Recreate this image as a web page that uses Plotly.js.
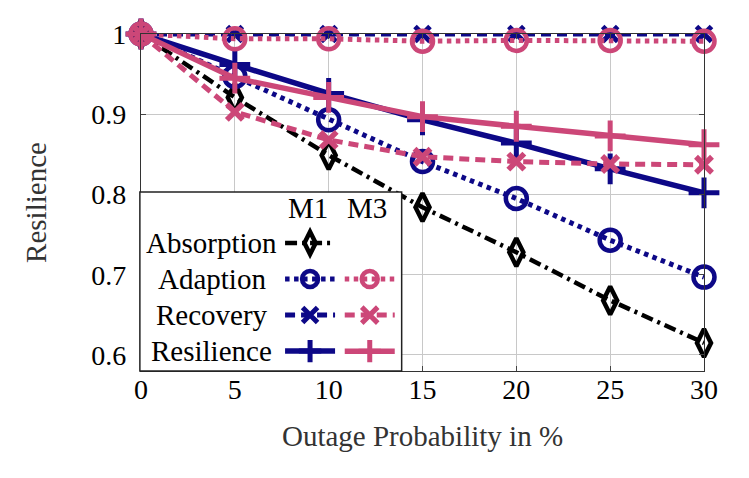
<!DOCTYPE html>
<html>
<head>
<meta charset="utf-8">
<script src="https://cdn.plot.ly/plotly-3.0.1.min.js"></script>
<style>
  html, body { margin: 0; padding: 0; background: #fff; }
  #graph { width: 749px; height: 478px; }
</style>
</head>
<body>
<div id="graph"></div>
<script>
// outage probability in %
const outage = [0, 5, 10, 15, 20, 25, 30];

// model M1
const absorptionM1 = [1, 0.921, 0.849, 0.784, 0.728, 0.668, 0.615];
const adaptionM1   = [1, 0.947, 0.893, 0.841, 0.795, 0.743, 0.697];
const recoveryM1   = [1, 1, 1, 1, 1, 1, 1];
const resilienceM1 = [1, 0.962, 0.926, 0.893, 0.864, 0.832, 0.802];

// model M3
const adaptionM3   = [1, 0.994, 0.994, 0.991, 0.992, 0.992, 0.991];
const recoveryM3   = [1, 0.903, 0.868, 0.847, 0.841, 0.838, 0.837];
const resilienceM3 = [1, 0.945, 0.921, 0.897, 0.885, 0.873, 0.862];

const rowLabels = ['Absorption', 'Adaption', 'Recovery', 'Resilience'];
const colLabels = ['M1', 'M3'];
const yTicks = [0.6, 0.7, 0.8, 0.9, 1];

const NAVY = '#0d0887';
const PINK = '#cc4778';
const FONT = 'Liberation Serif, Times New Roman, serif';

function series(y, color, dash, width, symbol, size, mlw, legend) {
    return {
        x: outage,
        y: y,
        type: 'scatter',
        mode: 'lines+markers',
        name: ' ',
        legend: legend,
        cliponaxis: false,
        hoverinfo: 'skip',
        line: { color: color, width: width, dash: dash },
        marker: {
            symbol: symbol,
            size: size,
            color: color,
            line: { color: color, width: mlw }
        }
    };
}

const data = [
    series(absorptionM1, '#000000', '12px,5px,3px,5px', 4.5, 'diamond-tall-open', 20, 4.5, 'legend'),
    series(adaptionM1, NAVY, '4.5px,4.5px', 5, 'circle-open', 21, 4.5, 'legend'),
    series(recoveryM1, NAVY, '10px,6px', 5, 'x-thin-open', 15, 5, 'legend'),
    series(resilienceM1, NAVY, 'solid', 5.5, 'cross-thin-open', 22, 5, 'legend'),
    series(adaptionM3, PINK, '4.5px,4.5px', 5, 'circle-open', 21, 4.5, 'legend2'),
    series(recoveryM3, PINK, '10px,6px', 5, 'x-thin-open', 16, 5.5, 'legend2'),
    series(resilienceM3, PINK, 'solid', 5.5, 'cross-thin-open', 22, 5, 'legend2')
];

// legend table: row labels + column headers
const rowY = [0.380, 0.273, 0.166, 0.059];
const annotations = rowLabels.map((t, i) => ({
    xref: 'paper', yref: 'paper', x: 0.126, y: rowY[i],
    text: t, showarrow: false, xanchor: 'center', yanchor: 'middle',
    font: { family: FONT, size: 29, color: '#000' }
})).concat(colLabels.map((t, i) => ({
    xref: 'paper', yref: 'paper', x: [0.297, 0.401][i], y: 0.484,
    text: t, showarrow: false, xanchor: 'center', yanchor: 'middle',
    font: { family: FONT, size: 29, color: '#000' }
})));

const legendBase = {
    orientation: 'v',
    xanchor: 'left',
    yanchor: 'top',
    bgcolor: 'rgba(0,0,0,0)',
    borderwidth: 0,
    itemwidth: 50,
    itemclick: false,
    itemdoubleclick: false,
    font: { family: FONT, size: 25.4 }
};

const layout = {
    width: 749,
    height: 478,
    margin: { l: 141, r: 45, t: 34, b: 107, pad: 0 },
    paper_bgcolor: '#fff',
    plot_bgcolor: '#fff',
    font: { family: FONT, size: 28, color: '#000' },
    xaxis: {
        range: [0, 30],
        tick0: 0,
        dtick: 5,
        ticks: 'inside',
        ticklen: 5,
        tickcolor: '#444',
        showline: true,
        linecolor: '#333',
        linewidth: 1.2,
        mirror: 'ticks',
        showgrid: true,
        gridcolor: '#c8c8c8',
        gridwidth: 1,
        zeroline: false,
        ticklabelstandoff: -7,
        tickfont: { family: FONT, size: 28, color: '#000' },
        title: { text: 'Outage Probability in %', standoff: 22, font: { family: FONT, size: 29, color: '#333' } }
    },
    yaxis: {
        range: [0.58, 1.0],
        tickvals: yTicks,
        ticktext: yTicks.map(v => String(v)),
        ticks: 'inside',
        ticklen: 5,
        tickcolor: '#444',
        showline: true,
        linecolor: '#333',
        linewidth: 1.2,
        mirror: 'ticks',
        showgrid: true,
        gridcolor: '#c8c8c8',
        gridwidth: 1,
        zeroline: false,
        ticklabelstandoff: 8,
        tickfont: { family: FONT, size: 28, color: '#000' },
        title: { text: 'Resilience', standoff: 36, font: { family: FONT, size: 29, color: '#333' } }
    },
    showlegend: true,
    legend: Object.assign({}, legendBase, { x: 0.247, y: 0.448 }),
    legend2: Object.assign({}, legendBase, { x: 0.353, y: 0.341 }),
    shapes: [{
        type: 'rect', xref: 'paper', yref: 'paper', layer: 'above',
        x0: -0.002, x1: 0.463, y0: 0, y1: 0.531,
        fillcolor: '#fff', line: { color: '#222', width: 1.5 }
    }],
    annotations: annotations
};

Plotly.newPlot('graph', data, layout, { displayModeBar: false, staticPlot: true });
</script>
</body>
</html>
